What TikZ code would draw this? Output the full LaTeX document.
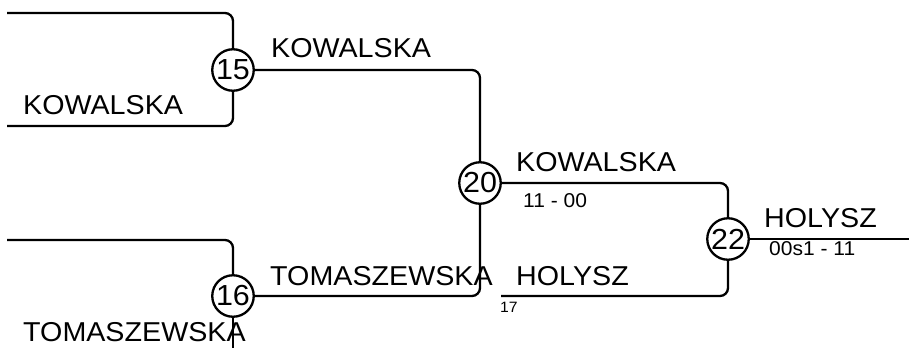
\documentclass[tikz,border=0pt]{standalone}
\usepackage{fontspec}
\setmainfont[FakeStretch=1.05]{Liberation Sans}
\begin{document}
\begin{tikzpicture}[x=1pt,y=-1pt,
  conn/.style={line width=2.3pt,rounded corners=8pt},
  seed/.style={circle,draw,line width=2.3pt,minimum size=41.5pt,inner sep=0pt,font=\fontsize{29}{29}\selectfont},
  player/.style={anchor=base west,inner sep=0pt,font=\fontsize{27.3}{28}\selectfont},
  score/.style={anchor=base west,inner sep=0pt,font=\fontsize{20}{20}\selectfont},
  tiny/.style={anchor=base west,inner sep=0pt,font=\fontsize{15}{15}\selectfont}]
\useasboundingbox (0,0) rectangle (909,348);
\node[seed] (c15) at (233,70) {15};
\node[seed] (c16) at (233,296) {16};
\node[seed] (c20) at (480,183) {20};
\node[seed] (c22) at (728,239) {22};
\coordinate (a1) at (7,13);
\coordinate (a2) at (7,126);
\coordinate (b1) at (7,240);
\coordinate (b2) at (233,348);
\coordinate (h17) at (501,296);
\coordinate (out) at (909,239);
\draw[conn] (a1) -| (c15);
\draw[conn] (a2) -| (c15);
\draw[conn] (b1) -| (c16);
\draw[conn] (c16) -- (b2);
\draw[conn] (c15) -| (c20);
\draw[conn] (c16) -| (c20);
\draw[conn] (c20) -| (c22);
\draw[conn] (h17) -| (c22);
\draw[conn] (c22) -- (out);
\node[player] (t1) at (271,57) {KOWALSKA};
\node[player] (t2) at (23,114) {KOWALSKA};
\node[player] (t3) at (270,285) {TOMASZEWSKA};
\node[player] (t4) at (23,341) {TOMASZEWSKA};
\node[player] (t5) at (516,171) {KOWALSKA};
\node[score] (s1) at (523,207) {11 - 00};
\node[player] (t6) at (516,285) {HOLYSZ};
\node[tiny] (s2) at (500,312) {17};
\node[player] (t7) at (764,227) {HOLYSZ};
\node[score] (s3) at (769,255) {00s1 - 11};
\end{tikzpicture}
\end{document}
